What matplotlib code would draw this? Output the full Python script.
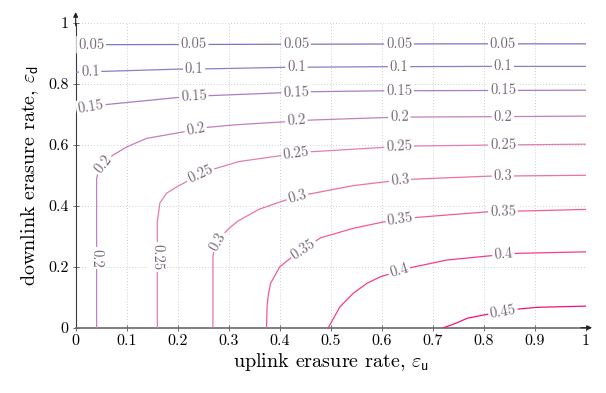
import numpy as np
import matplotlib
matplotlib.use('Agg')
import matplotlib.pyplot as plt

plt.rcParams['font.family'] = 'serif'
plt.rcParams['font.serif'] = ['cmr10']
plt.rcParams['mathtext.fontset'] = 'cm'
plt.rcParams['axes.unicode_minus'] = False

### Contour lines, one (x, y) list per level
levels = [0.05, 0.1, 0.15, 0.2, 0.25, 0.3, 0.35, 0.4, 0.45]
level_labels = ['0.05', '0.1', '0.15', '0.2', '0.25', '0.3', '0.35', '0.4', '0.45']

c05_x = [0.0, 0.25, 0.5, 0.75, 1.0]
c05_y = [0.928, 0.929, 0.930, 0.931, 0.931]

c10_x = [0.0, 0.06, 0.2, 0.26, 0.41, 0.6, 0.8, 1.0]
c10_y = [0.838, 0.841, 0.848, 0.849, 0.854, 0.856, 0.857, 0.857]

c15_x = [0.0, 0.06, 0.2, 0.26, 0.41, 0.46, 0.6, 0.8, 1.0]
c15_y = [0.715, 0.732, 0.755, 0.761, 0.771, 0.774, 0.777, 0.778, 0.779]

c20_x = [0.041, 0.041, 0.041, 0.045, 0.055, 0.073, 0.1, 0.139, 0.2, 0.257, 0.309,
         0.406, 0.46, 0.6, 0.66, 0.8, 1.0]
c20_y = [0.0, 0.3, 0.49, 0.515, 0.54, 0.566, 0.593, 0.621, 0.639, 0.657, 0.665,
         0.675, 0.681, 0.689, 0.691, 0.692, 0.694]

c25_x = [0.16, 0.16, 0.165, 0.178, 0.198, 0.244, 0.27, 0.32, 0.4, 0.459, 0.6,
         0.665, 0.806, 1.0]
c25_y = [0.0, 0.348, 0.409, 0.441, 0.462, 0.503, 0.52, 0.545, 0.564, 0.577, 0.591,
         0.596, 0.599, 0.602]

c30_x = [0.269, 0.269, 0.271, 0.277, 0.287, 0.3, 0.318, 0.36, 0.41, 0.45, 0.5, 0.544,
         0.603, 0.66, 0.806, 1.0]
c30_y = [0.0, 0.233, 0.255, 0.28, 0.303, 0.325, 0.35, 0.389, 0.418, 0.436, 0.452, 0.466,
         0.478, 0.487, 0.497, 0.5]

c35_x = [0.374, 0.375, 0.378, 0.382, 0.4, 0.43, 0.48, 0.544, 0.603, 0.669, 0.806, 1.0]
c35_y = [0.0, 0.069, 0.113, 0.146, 0.2, 0.24, 0.295, 0.326, 0.347, 0.362, 0.38, 0.388]

c40_x = [0.495, 0.518, 0.544, 0.571, 0.597, 0.634, 0.659, 0.727, 0.806, 0.865, 1.0]
c40_y = [0.0, 0.069, 0.113, 0.146, 0.167, 0.186, 0.198, 0.222, 0.235, 0.244, 0.249]

c45_x = [0.721, 0.747, 0.767, 0.806, 0.865, 0.904, 1.0]
c45_y = [0.0, 0.016, 0.031, 0.044, 0.061, 0.067, 0.071]

xticks = [0, 0.1, 0.2, 0.3, 0.4, 0.5, 0.6, 0.7, 0.8, 0.9, 1.0]
xtick_labels = ['0', '0.1', '0.2', '0.3', '0.4', '0.5', '0.6', '0.7', '0.8', '0.9', '1']
yticks = [0, 0.2, 0.4, 0.6, 0.8, 1.0]
ytick_labels = ['0', '0.2', '0.4', '0.6', '0.8', '1']

# style: line colours and where labels sit along each line
line_colors = ['#7a78c2', '#8f7cc6', '#a97cc6', '#c67ebe', '#e27eb2',
               '#ee70a4', '#f25a97', '#f43c8b', '#f5107e']
label_hints = [
    [(0.03, 0.93), (0.231, 0.93), (0.432, 0.93), (0.634, 0.93), (0.837, 0.93)],
    [(0.028, 0.84), (0.232, 0.85), (0.433, 0.855), (0.634, 0.857), (0.837, 0.857)],
    [(0.03, 0.725), (0.231, 0.758), (0.432, 0.772), (0.634, 0.777), (0.837, 0.778)],
    [(0.041, 0.228), (0.055, 0.535), (0.235, 0.65), (0.432, 0.678), (0.634, 0.69),
     (0.837, 0.692)],
    [(0.16, 0.232), (0.244, 0.503), (0.432, 0.57), (0.634, 0.594), (0.837, 0.6)],
    [(0.28, 0.28), (0.434, 0.43), (0.636, 0.483), (0.837, 0.497)],
    [(0.445, 0.26), (0.636, 0.355), (0.837, 0.382)],
    [(0.634, 0.186), (0.838, 0.24)],
    [(0.837, 0.054)],
]
label_color = '#776677'


def place_labels(ax, xs, ys, hints, text, color):
    """Put rotated contour labels on the line nearest each hint"""
    pts = ax.transData.transform(np.column_stack([xs, ys]))
    seg = np.hypot(*np.diff(pts, axis=0).T)
    s = np.concatenate([[0], np.cumsum(seg)])
    ss = np.linspace(0, s[-1], int(s[-1]) * 2 + 2)
    px = np.interp(ss, s, pts[:, 0])
    py = np.interp(ss, s, pts[:, 1])
    for hx, hy in hints:
        h = ax.transData.transform((hx, hy))
        i = np.argmin((px - h[0])**2 + (py - h[1])**2)
        j0 = max(i - 10, 0)
        j1 = min(i + 10, len(px) - 1)
        ang = np.degrees(np.arctan2(py[j1] - py[j0], px[j1] - px[j0]))
        if ang >= 89:
            ang -= 180
        elif ang < -90:
            ang += 180
        x, y = ax.transData.inverted().transform((px[i], py[i]))
        ax.text(x, y, text, rotation=ang, rotation_mode='anchor', ha='center',
                va='center', fontsize=10.5, color=color, zorder=5,
                bbox=dict(boxstyle='square,pad=0.12', fc='white', ec='none'))


fig = plt.figure(figsize=(6.06, 3.93), dpi=100)
ax = fig.add_axes([0.1249, 0.166, 0.842, 0.776])
ax.set_xlim(0, 1)
ax.set_ylim(0, 1)

ax.grid(True, ls=(0, (1, 2.5)), color='#bdbdbd', lw=0.6)
ax.set_axisbelow(True)
for side in ['top', 'right']:
    ax.spines[side].set_visible(False)
ax.spines['left'].set_color('#3a3a3a')
ax.spines['left'].set_linewidth(0.8)
ax.spines['bottom'].set_color('#6a6a6a')
ax.spines['bottom'].set_linewidth(1.2)
ax.annotate('', xy=(1.012, 0), xytext=(0.99, 0), xycoords='axes fraction',
            arrowprops=dict(arrowstyle='-|>', color='#222222', lw=0.8,
                            mutation_scale=7, shrinkA=0, shrinkB=0))
ax.annotate('', xy=(0, 1.035), xytext=(0, 0.99), xycoords='axes fraction',
            arrowprops=dict(arrowstyle='-|>', color='#222222', lw=0.8,
                            mutation_scale=7, shrinkA=0, shrinkB=0))

ax.set_xticks(xticks)
ax.set_xticklabels(xtick_labels)
ax.set_yticks(yticks)
ax.set_yticklabels(ytick_labels)
ax.tick_params(direction='inout', length=4, width=0.6, color='#555555',
               labelsize=11.5, pad=3)

ax.set_xlabel(r'uplink erasure rate, $\varepsilon_{\mathsf{u}}$', fontsize=14.5,
              labelpad=2)
ax.set_ylabel(r'downlink erasure rate, $\varepsilon_{\mathsf{d}}$', fontsize=14.5,
              labelpad=5)

curves = [(c05_x, c05_y), (c10_x, c10_y), (c15_x, c15_y), (c20_x, c20_y),
          (c25_x, c25_y), (c30_x, c30_y), (c35_x, c35_y), (c40_x, c40_y),
          (c45_x, c45_y)]
for k in range(len(levels)):
    xs, ys = curves[k]
    ax.plot(xs, ys, color=line_colors[k], lw=0.9, zorder=3)
    place_labels(ax, xs, ys, label_hints[k], level_labels[k], label_color)

fig.savefig('out.png', dpi=100)
